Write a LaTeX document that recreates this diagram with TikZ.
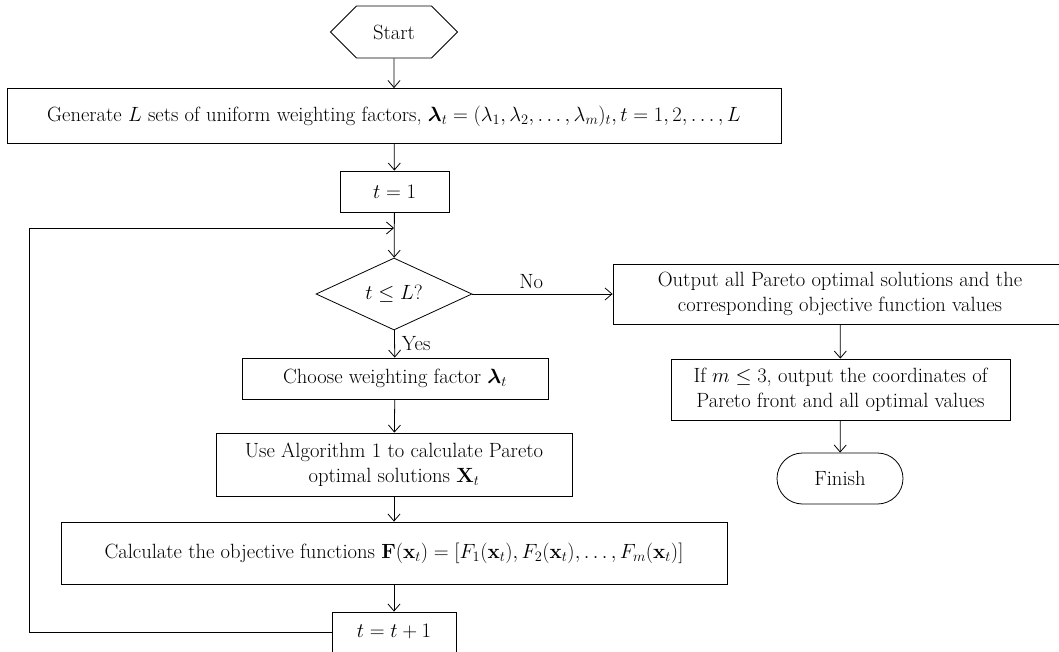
\RequirePackage{fix-cm}
\documentclass[tikz,border=0pt]{standalone}
\usepackage{amsmath,bm}
\usetikzlibrary{shapes.geometric,shapes.symbols,shapes.misc,arrows.meta}

\begin{document}
\begin{tikzpicture}[x=1pt, y=-1pt, line width=0.8pt, >={Straight Barb[length=7pt,width=12pt]}]
	\tikzstyle{every node}=[inner sep=1pt, align=center, font=\fontsize{20.6}{25}\selectfont]
	\tikzstyle{box}=[draw, rectangle, minimum height=41pt]
	\useasboundingbox (0,0) rectangle (1059,652);
	% main column
	\node[draw, signal, signal to=west and east, signal pointer angle=90, minimum width=127pt, minimum height=52pt] (start) at (394,32) {Start};
	\node[box, minimum width=774pt, minimum height=55pt] (gen) at (394,116) {Generate $L$ sets of uniform weighting factors, $\bm{\lambda}_t = (\lambda_1, \lambda_2, \ldots, \lambda_m)_t, t = 1, 2, \ldots, L$};
	\node[box, minimum width=109pt] (t1) at (394.5,191.5) {$t = 1$};
	\node[draw, diamond, aspect=2.2, inner sep=0pt, minimum width=156pt, minimum height=72pt] (dec) at (394,294) {$t \leq L$?};
	\node[box, minimum width=306pt] (choose) at (395,378.5) {Choose weighting factor $\bm{\lambda}_t$};
	\node[box, minimum width=356pt, minimum height=63pt] (algo) at (394,464.5) {Use Algorithm 1 to calculate Pareto\\optimal solutions $\mathbf{X}_t$};
	\node[box, minimum width=666pt, minimum height=62pt] (calc) at (394,553) {Calculate the objective functions $\mathbf{F}(\mathbf{x}_t) = [F_1(\mathbf{x}_t), F_2(\mathbf{x}_t), \ldots, F_m(\mathbf{x}_t)]$};
	\node[box, minimum width=124pt, minimum height=40pt] (tinc) at (394,632) {$t = t + 1$};
	% right column
	\node[box, minimum width=454pt, minimum height=60pt] (out) at (840,294) {Output all Pareto optimal solutions and the\\corresponding objective function values};
	\node[box, minimum width=339pt, minimum height=61pt] (ifm) at (840.5,389.5) {If $m \leq 3$, output the coordinates of\\Pareto front and all optimal values};
	\node[draw, rounded rectangle, minimum width=128pt, minimum height=51pt] (finish) at (840,478.5) {Finish};
	\coordinate (join) at (394,228);
	\coordinate (back) at (29,228);
	% connectors
	\draw [->] (start) -- (gen);
	\draw [->] (gen) -- (t1);
	\draw [->] (t1) -- (dec);
	\draw [->] (dec) -- (choose) node[midway, right=6pt] {Yes};
	\draw [->] (choose) -- (algo);
	\draw [->] (algo) -- (calc);
	\draw [->] (calc) -- (tinc);
	\draw [->] (tinc.west) -| (back) -- (join);
	\draw [->] (dec.east) -- (out.west) node[pos=0.42, above=4pt] {No};
	\draw [->] (out) -- (ifm);
	\draw [->] (ifm) -- (finish);
\end{tikzpicture}
\end{document}
